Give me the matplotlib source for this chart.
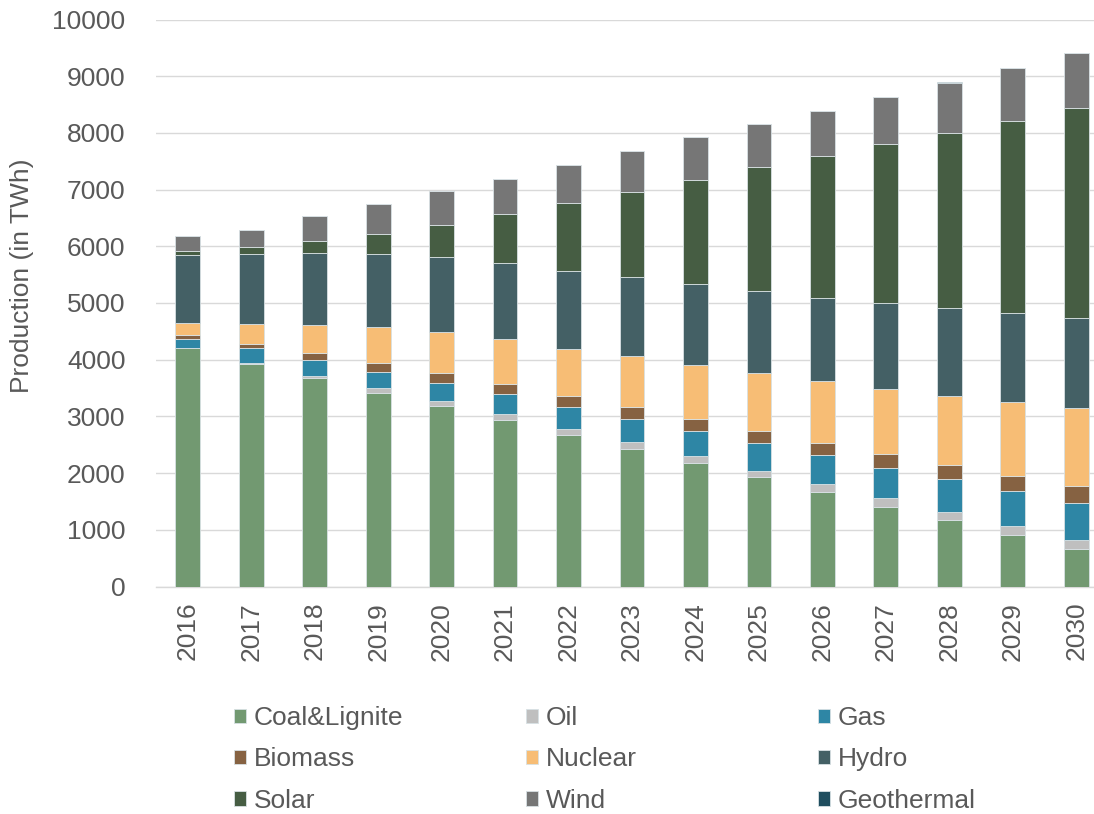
import numpy as np
import matplotlib.pyplot as plt

plt.rcParams['font.family'] = ['Liberation Sans', 'DejaVu Sans']

# data (TWh)
years = ['2016', '2017', '2018', '2019', '2020', '2021', '2022', '2023',
         '2024', '2025', '2026', '2027', '2028', '2029', '2030']
coal = [4205, 3925, 3670, 3405, 3180, 2935, 2680, 2425, 2175, 1925, 1670, 1405, 1165, 910, 665]
oil = [10, 25, 40, 88, 83, 112, 100, 117, 124, 118, 136, 160, 155, 154, 155]
gas = [155, 253, 282, 294, 323, 341, 383, 412, 435, 482, 507, 532, 576, 619, 650]
biomass = [65, 82, 118, 147, 171, 188, 188, 206, 212, 212, 211, 235, 253, 272, 309]
nuclear = [210, 347, 506, 641, 735, 789, 841, 900, 959, 1024, 1095, 1157, 1219, 1306, 1361]
hydro = [1200, 1236, 1264, 1289, 1324, 1347, 1377, 1400, 1423, 1453, 1467, 1510, 1541, 1560, 1597]
solar = [70, 117, 206, 353, 559, 859, 1194, 1506, 1842, 2188, 2512, 2797, 3094, 3397, 3700]
wind = [260, 306, 442, 523, 599, 617, 670, 706, 752, 747, 786, 835, 879, 928, 966]
geothermal = [3, 3, 3, 4, 4, 4, 5, 5, 5, 6, 6, 6, 7, 7, 7]

series = [('Coal&Lignite', coal, '#729971'),
          ('Oil', oil, '#BFBFBF'),
          ('Gas', gas, '#2E86A5'),
          ('Biomass', biomass, '#866242'),
          ('Nuclear', nuclear, '#F7BD75'),
          ('Hydro', hydro, '#446065'),
          ('Solar', solar, '#465D43'),
          ('Wind', wind, '#767676'),
          ('Geothermal', geothermal, '#1F4E5F')]

txt = '#595959'
fs = 19

fig = plt.figure(figsize=(10.94, 8.14), dpi=100)
ax = fig.add_axes([156 / 1094, 227.5 / 814, 952 / 1094, 567 / 814])

x = np.arange(len(years))
bottom = np.zeros(len(years))
handles = []
for name, vals, col in series:
    b = ax.bar(x, vals, 0.39, bottom=bottom, color=col, label=name,
               edgecolor='#d8e1e4', linewidth=0.6, zorder=3)
    handles.append(b)
    bottom += np.array(vals)

ax.set_xlim(-0.5, len(years) - 0.5)
ax.set_ylim(0, 10000)
ax.set_yticks(range(0, 10001, 1000))
ax.set_xticks(x)
ax.set_xticklabels(years, rotation=90)
ax.tick_params(axis='both', length=0, labelsize=fs, labelcolor=txt)
ax.tick_params(axis='y', pad=22)
ax.tick_params(axis='x', pad=11)
ax.grid(axis='y', color='#d9d9d9', linewidth=1.0, zorder=0)
for s in ['top', 'right', 'left']:
    ax.spines[s].set_visible(False)
ax.spines['bottom'].set_color('#d9d9d9')
ax.spines['bottom'].set_linewidth(1.0)

fig.text(22 / 1094, 1 - 276 / 814, 'Production (in TWh)', rotation=90,
         ha='center', va='center', fontsize=fs, color=txt)

# legend: three columns placed by hand
col_x = [234, 526, 818]
for i in range(3):
    leg = fig.legend(handles=handles[i::3], labels=[s[0] for s in series[i::3]],
                     loc='upper left', bbox_to_anchor=(col_x[i] / 1094, 1 - 706 / 814),
                     frameon=False, fontsize=fs, handlelength=0.45, handleheight=0.45,
                     handletextpad=0.3, labelspacing=0.66, borderpad=0, borderaxespad=0)
    for t in leg.get_texts():
        t.set_color(txt)

fig.savefig('out.png', dpi=100)
